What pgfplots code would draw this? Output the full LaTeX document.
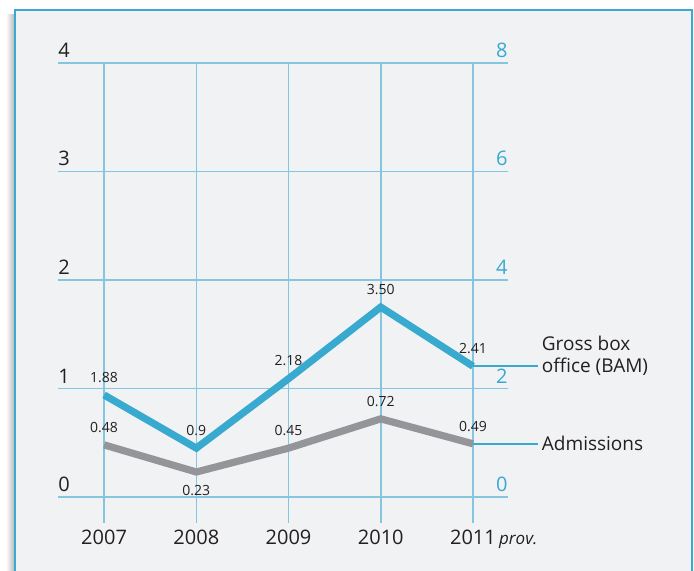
\documentclass[border=0pt]{standalone}
\usepackage{fontspec}
\setmainfont{Open Sans}
\usepackage{pgfplots}
\pgfplotsset{compat=1.18}
\definecolor{frameblue}{HTML}{3AA9D3}
\definecolor{gridblue}{HTML}{86C5DF}
\definecolor{lineblue}{HTML}{38A9CF}
\definecolor{linegray}{HTML}{939598}
\definecolor{bggray}{HTML}{F1F2F4}
\definecolor{txt}{HTML}{231F20}

\pgfplotsset{
  base/.style={
    scale only axis, width=225pt, height=230pt,
    at={(29pt,24pt)}, anchor=south west,
    xmin=2006.5, xmax=2011.38,
    axis line style={draw=none}, major tick length=0pt,
    clip=false,
    /pgf/number format/assume math mode=true,
    /pgf/number format/1000 sep={},
    xtick={2007,2008,2009,2010,2011},
    every node near coord/.append style={
      font=\fontsize{7}{8}\selectfont, color=txt, anchor=south, inner sep=1pt, yshift=3.5pt},
  },
}

\begin{document}
\begin{tikzpicture}[x=0.5pt, y=0.5pt]
  \path[use as bounding box] (0,0) rectangle (694,571);
  % shadow and frame
  \shade[left color=white, right color=black!30] (6,0) rectangle (15,556);
  \fill[bggray] (15,0) rectangle (692,561);
  \draw[frameblue, line width=1.2pt] (15,0) -- (15,561) -- (692,561) -- (692,0);

  % left axis: admissions
  \begin{axis}[base,
      ymin=-0.24, ymax=4,
      ytick={0,1,2,3,4},
      grid=major,
      grid style={gridblue, line width=0.8pt},
      xticklabels={2007,2008,2009,2010,{2011\rlap{\,\textit{\fontsize{8.5}{10}\selectfont prov.}}}},
      xticklabel style={font=\fontsize{10}{12}\selectfont, color=txt, inner sep=3.5pt},
      yticklabel style={font=\fontsize{10}{12}\selectfont, color=txt,
        anchor=south west, inner xsep=0pt, inner ysep=2.5pt},
    ]
    \addplot[linegray, line width=3.6pt, line join=miter,
      nodes near coords, point meta=explicit symbolic]
      coordinates {(2007,0.48)[0.48] (2008,0.23)[] (2009,0.45)[0.45] (2010,0.72)[0.72] (2011,0.49)[0.49]};
    \node[font=\fontsize{7}{8}\selectfont, color=txt, anchor=north, yshift=-3pt]
      at (axis cs:2008,0.23) {0.23};
    \draw[lineblue, line width=0.8pt] (axis cs:2011,0.49) -- (axis cs:2011.70,0.49);
    \node[anchor=west, font=\fontsize{9.5}{11}\selectfont, color=txt, inner xsep=2pt]
      at (axis cs:2011.70,0.49) {Admissions};
  \end{axis}

  % right axis: gross box office
  \begin{axis}[base,
      ymin=-0.48, ymax=8,
      ytick={0,2,4,6,8},
      xticklabels={},
      yticklabel pos=right,
      yticklabel style={font=\fontsize{10}{12}\selectfont, color=lineblue,
        anchor=south east, inner xsep=0pt, inner ysep=2.5pt},
    ]
    \addplot[lineblue, line width=3.6pt, line join=miter,
      nodes near coords, point meta=explicit symbolic]
      coordinates {(2007,1.88)[1.88] (2008,0.9)[0.9] (2009,2.18)[2.18] (2010,3.50)[3.50] (2011,2.41)[2.41]};
    \draw[lineblue, line width=0.8pt] (axis cs:2011,2.41) -- (axis cs:2011.70,2.41);
    \node[anchor=west, align=left, font=\fontsize{9.5}{11}\selectfont, color=txt, inner xsep=2pt, yshift=5pt]
      at (axis cs:2011.70,2.41) {Gross box\\office (BAM)};
  \end{axis}
\end{tikzpicture}
\end{document}
